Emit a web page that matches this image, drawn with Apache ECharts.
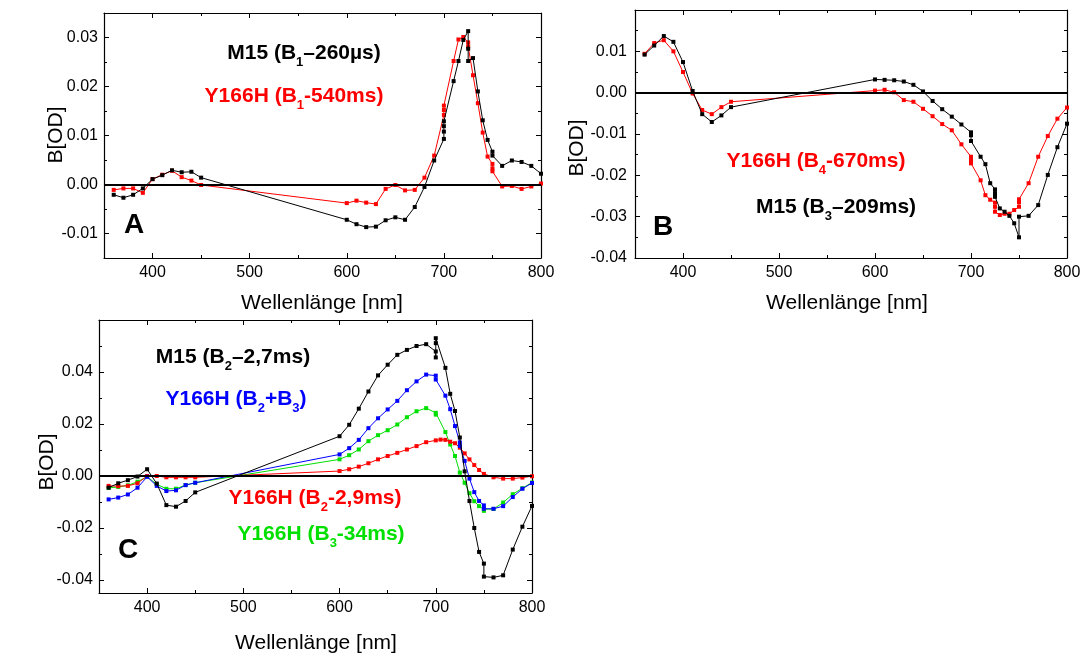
<!DOCTYPE html>
<html>
<head>
<meta charset="utf-8">
<script src="https://cdn.jsdelivr.net/npm/echarts@6/dist/echarts.min.js"></script>
<style>
html,body{margin:0;padding:0;background:#fff;}
#chart{width:1085px;height:655px;}
</style>
</head>
<body>
<div id="chart"></div>
<script>
// ---------- DATA ----------
// Panel A
const aM15X = [360,370,380,390,400,410,420,430,440,450,600,610,620,630,640,650,660,670,680,690,700,700,700,700,710,715,720,725,725,725,730,735,740,745,750,750,760,770,780,790,800];
const aM15Y = [-0.0021,-0.0027,-0.0021,-0.0008,0.0011,0.0019,0.0029,0.0025,0.0026,0.0014,-0.0072,-0.0081,-0.0087,-0.0086,-0.0073,-0.0067,-0.0072,-0.0046,-0.0005,0.0049,0.0093,0.0108,0.0119,0.0129,0.0211,0.0252,0.0295,0.0313,0.0277,0.0252,0.0258,0.0190,0.0131,0.0091,0.0067,0.0059,0.0038,0.0049,0.0046,0.0038,0.0022];
const aY166HX = [360,370,380,390,400,410,420,430,440,450,600,610,620,630,640,650,660,670,680,690,700,700,700,710,715,720,725,725,730,735,740,745,750,750,750,760,770,780,790,800];
const aY166HY = [-0.0011,-0.0008,-0.0008,-0.0017,0.0011,0.0020,0.0028,0.0015,0.0008,-0.0001,-0.0038,-0.0033,-0.0037,-0.0040,-0.0009,-0.0001,-0.0012,-0.0011,0.0014,0.0059,0.0142,0.0152,0.0161,0.0252,0.0296,0.0301,0.0290,0.0282,0.0223,0.0166,0.0106,0.0057,0.0042,0.0033,0.0027,-0.0004,-0.0003,-0.0009,-0.0004,0.0002];
// Panel B
const bM15X = [360,370,380,390,400,410,420,430,440,450,600,610,620,630,640,650,660,670,680,690,700,700,700,710,715,720,725,725,725,730,735,740,745,750,750,760,770,780,790,800];
const bM15Y = [0.0092,0.0114,0.0137,0.0123,0.0074,0.0004,-0.0052,-0.0071,-0.0055,-0.0035,0.0032,0.0031,0.0030,0.0027,0.0019,0.0003,-0.0020,-0.0040,-0.0058,-0.0077,-0.0096,-0.0103,-0.0117,-0.0155,-0.0173,-0.0219,-0.0234,-0.0243,-0.0252,-0.0280,-0.0288,-0.0298,-0.0316,-0.0350,-0.0300,-0.0298,-0.0272,-0.0199,-0.0132,-0.0075];
const bY166HX = [360,370,380,390,400,410,420,430,440,450,600,610,620,630,640,650,660,670,680,690,700,700,700,710,715,720,725,725,725,730,735,740,745,750,750,750,760,770,780,790,800];
const bY166HY = [0.0094,0.0120,0.0127,0.0100,0.0050,-0.0002,-0.0042,-0.0052,-0.0035,-0.0022,0.0005,0.0007,0.0001,-0.0018,-0.0022,-0.0039,-0.0057,-0.0076,-0.0091,-0.0125,-0.0155,-0.0163,-0.0171,-0.0212,-0.0248,-0.0259,-0.0266,-0.0276,-0.0288,-0.0296,-0.0293,-0.0293,-0.0284,-0.0276,-0.0265,-0.0258,-0.0219,-0.0155,-0.0105,-0.0063,-0.0036];
// Panel C
const cM15X = [360,370,380,390,400,410,420,430,440,450,600,610,620,630,640,650,660,670,680,690,700,700,700,700,710,715,720,725,730,735,740,745,750,750,760,770,780,790,800];
const cM15Y = [-0.0045,-0.0028,-0.0016,-0.0002,0.0026,-0.0029,-0.0112,-0.0118,-0.0096,-0.0063,0.0153,0.0197,0.0259,0.0325,0.0387,0.0428,0.0466,0.0485,0.0500,0.0507,0.0479,0.0456,0.0511,0.0530,0.0416,0.0316,0.0250,0.0148,0.0018,-0.0096,-0.0200,-0.0292,-0.0337,-0.0387,-0.0390,-0.0382,-0.0283,-0.0195,-0.0115];
const cSumX = [360,370,380,390,400,410,420,430,440,450,600,610,620,630,640,650,660,670,680,690,700,700,710,715,720,725,725,730,735,740,745,750,750,760,770,780,790,800];
const cSumY = [-0.0090,-0.0083,-0.0071,-0.0045,-0.0003,-0.0038,-0.0058,-0.0055,-0.0035,-0.0026,0.0083,0.0107,0.0139,0.0184,0.0222,0.0256,0.0289,0.0330,0.0364,0.0390,0.0386,0.0371,0.0309,0.0257,0.0192,0.0129,0.0116,0.0058,-0.0010,-0.0062,-0.0096,-0.0113,-0.0126,-0.0126,-0.0116,-0.0081,-0.0049,-0.0027];
const cB2X = [360,370,380,390,400,410,420,430,440,450,600,610,620,630,640,650,660,670,680,690,700,705,710,715,720,725,730,735,740,745,750,760,770,780,790,800];
const cB2Y = [-0.0038,-0.0039,-0.0038,-0.0028,0.0000,0.0000,-0.0005,-0.0005,-0.0005,-0.0005,0.0019,0.0026,0.0036,0.0049,0.0064,0.0077,0.0089,0.0102,0.0115,0.0130,0.0137,0.0140,0.0139,0.0132,0.0126,0.0109,0.0087,0.0064,0.0042,0.0023,0.0008,-0.0005,-0.0010,-0.0010,-0.0006,-0.0001];
const cB3X = [360,370,380,390,400,410,420,430,440,450,600,610,620,630,640,650,660,670,680,690,700,700,710,715,720,725,730,735,740,745,750,750,760,770,780,790,800];
const cB3Y = [-0.0046,-0.0042,-0.0036,-0.0022,-0.0003,-0.0032,-0.0049,-0.0049,-0.0035,-0.0026,0.0064,0.0080,0.0102,0.0134,0.0157,0.0176,0.0198,0.0226,0.0249,0.0261,0.0243,0.0236,0.0169,0.0121,0.0077,0.0013,-0.0026,-0.0066,-0.0097,-0.0116,-0.0128,-0.0134,-0.0127,-0.0102,-0.0070,-0.0047,-0.0025];

// Ticks
const xMajorTicks = [400,500,600,700,800];
const xMinorTicks = [350,450,550,650,750];
const aYMajor = [-0.01,0,0.01,0.02,0.03];
const aYMinor = [-0.005,0.005,0.015,0.025];
const aYLabels = [-0.01,0,0.01,0.02,0.03];
const bYMajor = [-0.04,-0.03,-0.02,-0.01,0,0.01];
const bYMinor = [-0.035,-0.025,-0.015,-0.005,0.005,0.015];
const bYLabels = [-0.04,-0.03,-0.02,-0.01,0,0.01];
const cYMajor = [-0.04,-0.02,0,0.02,0.04];
const cYMinor = [-0.03,-0.01,0.01,0.03,0.05];
const cYLabels = [-0.04,-0.02,0,0.02,0.04];

// ---------- CHART ----------
const FONT = '"Liberation Sans", Arial, sans-serif';
const BLACK = '#000000', RED = '#ff0000', BLUE = '#0000ff', GREEN = '#00e000';

function fmtY(v){ return Math.abs(v) < 1e-9 ? '0.00' : v.toFixed(2); }

const grids = [
  {left:104, top:13, width:437, height:245},
  {left:635, top:10, width:432, height:248},
  {left:99, top:320, width:433, height:273}
];
const yRanges = [[-0.015,0.035],[-0.04,0.02],[-0.045,0.06]];
const yTicks = [[aYMajor,aYMinor,aYLabels],[bYMajor,bYMinor,bYLabels],[cYMajor,cYMinor,cYLabels]];

const xAxes = [], yAxes = [];
grids.forEach((g, gi) => {
  const lineS = {show:true, onZero:false, lineStyle:{color:BLACK, width:1.2}};
  const noLine = {show:false, onZero:false};
  const lbl = {fontFamily:FONT, fontSize:16, color:BLACK};
  ['bottom','top'].forEach((pos) => {
    xAxes.push({type:'value', gridIndex:gi, position:pos, offset:0, min:350, max:800,
      axisLine:lineS, splitLine:{show:false},
      axisTick:{show:true, inside:true, length:5, customValues:xMajorTicks, lineStyle:{color:BLACK,width:1}},
      axisLabel: pos === 'bottom' ? Object.assign({show:true, margin:7, customValues:xMajorTicks, formatter:(v)=>String(v)}, lbl) : {show:false}});
    xAxes.push({type:'value', gridIndex:gi, position:pos, offset:0, min:350, max:800,
      axisLine:noLine, splitLine:{show:false},
      axisTick:{show:true, inside:true, length:3, customValues:xMinorTicks, lineStyle:{color:BLACK,width:1}},
      axisLabel:{show:false}});
  });
  const [mn, mx] = yRanges[gi];
  const [maj, mnr, labs] = yTicks[gi];
  ['left','right'].forEach((pos) => {
    yAxes.push({type:'value', gridIndex:gi, position:pos, offset:0, min:mn, max:mx,
      axisLine:lineS, splitLine:{show:false},
      axisTick:{show:true, inside:true, length:5, customValues:maj, lineStyle:{color:BLACK,width:1}},
      axisLabel: pos === 'left' ? Object.assign({show:true, margin:gi===1?8:6, customValues:labs, formatter:fmtY}, lbl) : {show:false}});
    yAxes.push({type:'value', gridIndex:gi, position:pos, offset:0, min:mn, max:mx,
      axisLine:noLine, splitLine:{show:false},
      axisTick:{show:true, inside:true, length:3, customValues:mnr, lineStyle:{color:BLACK,width:1}},
      axisLabel:{show:false}});
  });
});

function zeroLine(){
  return {silent:true, symbol:['none','none'], label:{show:false}, animation:false,
    lineStyle:{color:BLACK, width:1.8, type:'solid'}, data:[{yAxis:0}]};
}
function mk(name, xs, ys, color, gi, withZero, z){
  const s = {type:'line', name, xAxisIndex:gi*4, yAxisIndex:gi*4,
    data: xs.map((x,i)=>[x, ys[i]]),
    symbol:'rect', symbolSize:4, showSymbol:true,
    lineStyle:{color, width:1}, itemStyle:{color}, animation:false, z:z||2};
  if (withZero) s.markLine = zeroLine();
  return s;
}

const series = [
  mk('A Y166H', aY166HX, aY166HY, RED, 0, true, 2),
  mk('A M15', aM15X, aM15Y, BLACK, 0, false, 3),
  mk('B Y166H', bY166HX, bY166HY, RED, 1, true, 2),
  mk('B M15', bM15X, bM15Y, BLACK, 1, false, 3),
  mk('C B3', cB3X, cB3Y, GREEN, 2, true, 2),
  mk('C B2', cB2X, cB2Y, RED, 2, false, 3),
  mk('C B2+B3', cSumX, cSumY, BLUE, 2, false, 4),
  mk('C M15', cM15X, cM15Y, BLACK, 2, false, 5)
];

function txt(x, y, text, size, opts){
  return Object.assign({type:'text', x, y, silent:true, z:100,
    style:{text, fontFamily:FONT, fontSize:size, fill:BLACK, align:'center', verticalAlign:'middle',
      textAlign:'center', textVerticalAlign:'middle'}}, opts||{});
}
function boldTxt(x, y, text){
  return {type:'text', x, y, silent:true, z:100,
    style:{text, fontFamily:FONT, fontSize:28, fontWeight:'bold', fill:BLACK, align:'center', verticalAlign:'middle'}};
}
function richTxt(x, y, parts, color){
  // parts: array of [text, isSub]
  const str = parts.map(p => p[1] ? '{s|' + p[0] + '}' : '{b|' + p[0] + '}').join('');
  return {type:'text', x, y, silent:true, z:100,
    style:{text:str, align:'center', verticalAlign:'middle', textAlign:'center', textVerticalAlign:'middle',
      fontFamily:FONT, fontSize:21, fontWeight:'bold', fill:color,
      rich:{
        b:{fontFamily:FONT, fontSize:21, fontWeight:'bold', fill:color, lineHeight:22},
        s:{fontFamily:FONT, fontSize:13, fontWeight:'bold', fill:color, lineHeight:32, verticalAlign:'bottom'}
      }}};
}

const graphic = [
  // axis titles
  txt(322, 303, 'Wellenlänge [nm]', 21),
  txt(847, 303, 'Wellenlänge [nm]', 21),
  txt(316, 643, 'Wellenlänge [nm]', 21),
  txt(56, 135, 'B[OD]', 21, {rotation:Math.PI/2}),
  txt(577, 148, 'B[OD]', 21, {rotation:Math.PI/2}),
  txt(47, 462, 'B[OD]', 21, {rotation:Math.PI/2}),
  // panel letters
  boldTxt(134, 225, 'A'),
  boldTxt(663, 227, 'B'),
  boldTxt(128, 550, 'C'),
  // annotations
  richTxt(304, 53, [['M15 (B',0],['1',1],['\u2013260\u00b5s)',0]], BLACK),
  richTxt(294, 96, [['Y166H (B',0],['1',1],['-540ms)',0]], RED),
  richTxt(816, 161, [['Y166H (B',0],['4',1],['-670ms)',0]], RED),
  richTxt(836, 207, [['M15 (B',0],['3',1],['\u2013209ms)',0]], BLACK),
  richTxt(233, 357, [['M15 (B',0],['2',1],['\u20132,7ms)',0]], BLACK),
  richTxt(236, 399, [['Y166H (B',0],['2',1],['+B',0],['3',1],[')',0]], BLUE),
  richTxt(315, 498, [['Y166H (B',0],['2',1],['-2,9ms)',0]], RED),
  richTxt(321, 534, [['Y166H (B',0],['3',1],['-34ms)',0]], GREEN)
];

const chart = echarts.init(document.getElementById('chart'), null, {renderer:'canvas'});
chart.setOption({
  backgroundColor:'#ffffff',
  animation:false,
  grid: grids,
  xAxis: xAxes,
  yAxis: yAxes,
  series: series,
  graphic: graphic
});
</script>
</body>
</html>
